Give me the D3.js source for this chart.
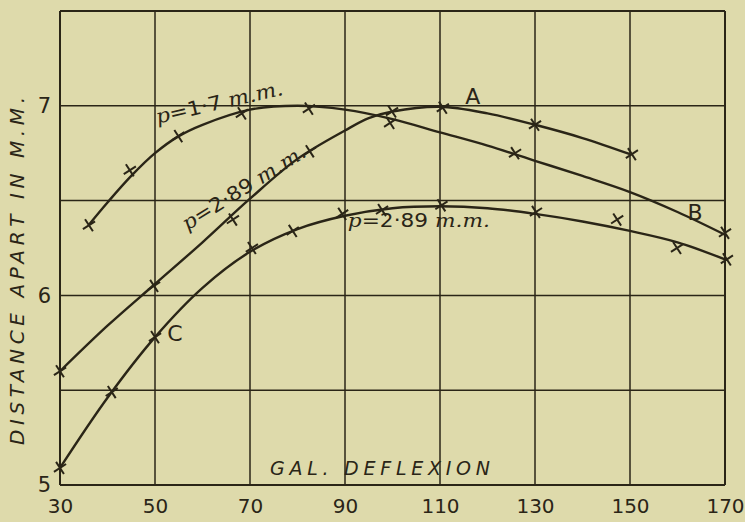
<!DOCTYPE html>
<html>
<head>
<meta charset="utf-8">
<script src="https://cdn.jsdelivr.net/npm/d3@7"></script>
<style>
  html, body { margin: 0; padding: 0; background: #dedaab; }
  svg { display: block; }
</style>
</head>
<body>
<svg id="chart" width="745" height="522"></svg>
<script>
// ---- data ----
const xTicks = [30, 50, 70, 90, 110, 130, 150, 170];
const yTickLabels = [5, 6, 7];
const yGrid = [5, 5.5, 6, 6.5, 7, 7.5];

// observed points (crosses)
const obsAx = [30, 49.8, 66.4, 82.6, 99.9, 110.6, 130, 150.4];
const obsAy = [5.60, 6.05, 6.40, 6.76, 6.97, 6.99, 6.90, 6.745];
const obsBx = [36.1, 44.7, 54.9, 68.3, 82.4, 99.5, 125.8, 170];
const obsBy = [6.37, 6.66, 6.84, 6.96, 6.985, 6.91, 6.75, 6.33];
const obsCx = [30, 40.9, 50, 70.4, 79, 89.4, 97.8, 110.3, 130.2, 147.3, 159.9, 170.4];
const obsCy = [5.09, 5.49, 5.78, 6.25, 6.34, 6.43, 6.45, 6.475, 6.44, 6.40, 6.25, 6.19];

// drawn (fitted) curves
const lineAx = [30, 40, 50, 60, 70, 80, 90, 95, 100, 110, 120, 130, 140, 150];
const lineAy = [5.60, 5.84, 6.06, 6.28, 6.51, 6.72, 6.87, 6.935, 6.97, 6.995, 6.96, 6.90, 6.83, 6.745];
const lineBx = [36, 40, 45, 50, 55, 60, 70, 80, 90, 100, 110, 120, 130, 140, 150, 160, 170];
const lineBy = [6.37, 6.49, 6.63, 6.75, 6.84, 6.90, 6.98, 7.0, 6.98, 6.93, 6.86, 6.79, 6.71, 6.63, 6.545, 6.44, 6.32];
const lineCx = [30, 40, 50, 60, 70, 80, 90, 100, 110, 120, 130, 140, 150, 160, 170];
const lineCy = [5.09, 5.46, 5.78, 6.04, 6.23, 6.35, 6.42, 6.46, 6.47, 6.46, 6.43, 6.39, 6.34, 6.28, 6.19];

const curveLabels = ["A", "B", "C"];
const labelX = [116.9, 163.7, 54.2];
const labelY = [7.05, 6.44, 5.80];

const xTitle = "GAL. DEFLEXION";
const yTitle = "DISTANCE APART IN M.M.";

// ---- drawing ----
const ink = "#2a2517";
const svg = d3.select("#chart");
svg.append("rect").attr("width", 745).attr("height", 522).attr("fill", "#dedaab");

const x = d3.scaleLinear().domain([30, 170]).range([60, 725]);
const y = d3.scaleLinear().domain([5, 7.5]).range([485, 11]);

// grid
const g = svg.append("g");
g.selectAll("line.v").data(xTicks).join("line")
  .attr("x1", d => x(d)).attr("x2", d => x(d))
  .attr("y1", y(5)).attr("y2", y(7.5))
  .attr("stroke", ink).attr("stroke-width", d => (d === 30 || d === 170) ? 2 : 1.5);
g.selectAll("line.h").data(yGrid).join("line")
  .attr("y1", d => y(d)).attr("y2", d => y(d))
  .attr("x1", x(30)).attr("x2", x(170))
  .attr("stroke", ink).attr("stroke-width", d => (d === 5 || d === 7.5) ? 2 : 1.5);

// axes labels via d3 axes
const xAxis = svg.append("g").attr("transform", `translate(0,${y(5)})`)
  .call(d3.axisBottom(x).tickValues(xTicks).tickSize(0).tickPadding(14).tickFormat(d3.format("d")));
xAxis.select(".domain").remove();
xAxis.selectAll("text").attr("font-family", "DejaVu Sans, sans-serif").attr("font-size", 20).attr("fill", ink);

const yAxis = svg.append("g").attr("transform", `translate(${x(30)},0)`)
  .call(d3.axisLeft(y).tickValues(yTickLabels).tickSize(0).tickPadding(9).tickFormat(d3.format("d")));
yAxis.select(".domain").remove();
yAxis.selectAll("text").attr("font-family", "DejaVu Sans, sans-serif").attr("font-size", 21).attr("fill", ink);

// titles
svg.append("text")
  .attr("transform", `translate(24,271) rotate(-90)`)
  .attr("text-anchor", "middle")
  .attr("font-family", "DejaVu Sans, sans-serif").attr("font-style", "italic")
  .attr("font-size", 20).attr("fill", ink)
  .attr("textLength", 348).attr("lengthAdjust", "spacing")
  .text(yTitle);

svg.append("text")
  .attr("x", 380).attr("y", 475)
  .attr("text-anchor", "middle")
  .attr("font-family", "DejaVu Sans, sans-serif").attr("font-style", "italic")
  .attr("font-size", 19).attr("fill", ink)
  .attr("textLength", 220).attr("lengthAdjust", "spacing")
  .text(xTitle);

// curves
const line = d3.line().x(d => x(d[0])).y(d => y(d[1])).curve(d3.curveCatmullRom.alpha(0.5));
const curves = [
  d3.zip(lineAx, lineAy),
  d3.zip(lineBx, lineBy),
  d3.zip(lineCx, lineCy)
];
svg.selectAll("path.curve").data(curves).join("path")
  .attr("class", "curve")
  .attr("d", line)
  .attr("fill", "none").attr("stroke", ink).attr("stroke-width", 2.4);

// crosses
const obs = [].concat(d3.zip(obsAx, obsAy), d3.zip(obsBx, obsBy), d3.zip(obsCx, obsCy));
const sym = d3.symbol(d3.symbolTimes, 70);
svg.selectAll("path.obs").data(obs).join("path")
  .attr("class", "obs")
  .attr("transform", d => `translate(${x(d[0])},${y(d[1])}) rotate(12)`)
  .attr("d", sym)
  .attr("fill", "none").attr("stroke", ink).attr("stroke-width", 2);

// curve letters
svg.selectAll("text.lbl").data(curveLabels).join("text")
  .attr("class", "lbl")
  .attr("x", (d, i) => x(labelX[i])).attr("y", (d, i) => y(labelY[i]))
  .attr("dy", "0.36em")
  .attr("text-anchor", "middle")
  .attr("font-family", "DejaVu Sans, sans-serif").attr("font-size", 22)
  .attr("fill", ink)
  .text(d => d);

// parameter annotations
function pLabel(xv, yv, angle, num, len, fs) {
  const t = svg.append("text")
    .attr("transform", `translate(${x(xv)},${y(yv)}) rotate(${angle})`)
    .attr("font-size", fs).attr("fill", ink)
    .attr("textLength", len).attr("lengthAdjust", "spacingAndGlyphs");
  t.append("tspan").attr("font-family", "DejaVu Serif, serif").attr("font-style", "italic").text("p");
  t.append("tspan").attr("font-family", "DejaVu Sans, sans-serif").text("=" + num + " ");
  t.append("tspan").attr("font-family", "DejaVu Serif, serif").attr("font-style", "italic").text("m.m.");
}
pLabel(50.5, 6.905, -13, "1·7", 130, 20);
pLabel(56.8, 6.34, -32, "2·89", 142, 20);
pLabel(90.6, 6.36, 0, "2·89", 142, 19);
</script>
</body>
</html>
